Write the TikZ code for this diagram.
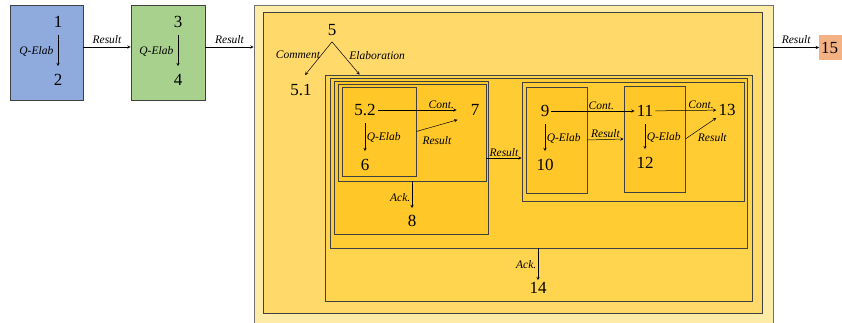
\documentclass[tikz,border=0pt]{standalone}
\usepackage{fontspec}
\setmainfont{Liberation Serif}
\definecolor{cblue}{HTML}{8FAADC}
\definecolor{cgreen}{HTML}{A9D18E}
\definecolor{csalmon}{HTML}{F4B183}
\definecolor{yA}{HTML}{FFEBA8}
\definecolor{yB}{HTML}{FFDA6A}
\definecolor{yC}{HTML}{FFD54F}
\definecolor{yD}{HTML}{FFCD33}
\definecolor{yE}{HTML}{FFC828}

\begin{document}
\begin{tikzpicture}[x=1pt,y=-1pt,
    box/.style={draw=black!75, line width=0.7pt, inner sep=0pt},
    num/.style={font=\fontsize{17}{17}\selectfont, inner sep=2pt},
    lab/.style={font=\itshape\fontsize{11.5}{12}\selectfont, inner sep=1.5pt},
    arr/.style={-stealth, line width=0.5pt},
    qarr/.style={arr, shorten <=5pt, shorten >=6pt}]
    \clip (0,0) rectangle (842,322);
    % 箱
    \node[box, fill=cblue, minimum width=73, minimum height=95] (b1) at (46.5,52.5) {};
    \node[box, fill=cgreen, minimum width=74, minimum height=95] (b2) at (168,52.5) {};
    \node[box, draw=black!55, fill=yA, minimum width=519, minimum height=335] (bout) at (513.5,172.5) {};
    \node[box, fill=yB, minimum width=499, minimum height=301] (bin) at (512.5,162.5) {};
    \node[box, fill=yC, minimum width=427, minimum height=226] (b14) at (538.5,188) {};
    \node[box, fill=yD, minimum width=417, minimum height=170] (bgrp) at (538.5,163) {};
    \node[box, fill=yE, minimum width=154, minimum height=153] (b8) at (411,157.5) {};
    \node[box, fill=yE, minimum width=148, minimum height=97] (b7) at (412,132.5) {};
    \node[box, fill=yE, minimum width=74, minimum height=89] (b6) at (379,131.5) {};
    \node[box, fill=yD, minimum width=222, minimum height=119] (bR) at (633,141.5) {};
    \node[box, fill=yE, minimum width=61, minimum height=106] (b10) at (556.5,140) {};
    \node[box, fill=yE, minimum width=61, minimum height=106] (b12) at (654.5,139) {};
    \node[fill=csalmon, anchor=west, minimum height=25, inner sep=2pt, text width=36pt,
        font=\fontsize{17}{17}\selectfont] (b15) at (819,47.5) {15};

    % 番号
    \node[num] (n1) at (58,22) {1};
    \node[num] (n2) at (58,80) {2};
    \node[num] (n3) at (178,22) {3};
    \node[num] (n4) at (178,80) {4};
    \node[num] (n5) at (332,30) {5};
    \node[num] (n51) at (301,90) {5.1};
    \node[num] (n52) at (365,110) {5.2};
    \node[num] (n7) at (475,110) {7};
    \node[num] (n6) at (365,165) {6};
    \node[num] (n8) at (412,221) {8};
    \node[num] (n9) at (545,111) {9};
    \node[num] (n10) at (545,165) {10};
    \node[num] (n11) at (645,111) {11};
    \node[num] (n12) at (645,163) {12};
    \node[num] (n13) at (727,110) {13};
    \node[num] (n14) at (538,288) {14};

    % 矢印
    \draw[qarr] (n1) -- node[lab,left=3pt] {Q-Elab} (n2);
    \draw[qarr] (n3) -- node[lab,left=3pt] {Q-Elab} (n4);
    \coordinate (r1) at ([yshift=5.5pt]b1.east);
    \coordinate (r2) at ([yshift=5.5pt]b2.east);
    \draw[arr] (r1) -- node[lab,above=2pt] {Result} (r1 -| b2.west);
    \draw[arr] (r2) -- node[lab,above=2pt] {Result} (r2 -| bout.west);
    \draw[arr] (b15.west -| bout.east) -- node[lab,above=2pt] {Result} (b15.west);

    \coordinate (ap) at ([yshift=-4pt]n5.south);
    \draw[arr] (ap) -- node[lab,left,pos=0.38] {Comment} ([xshift=4pt,yshift=7pt]n51.north);
    \draw[arr] (ap) -- node[lab,right=4pt,pos=0.42] {Elaboration} ([xshift=35pt]b14.north west);

    \draw[arr, shorten >=12pt] (n52) -- node[lab,above,pos=0.7] {Cont.} (n7);
    \draw[arr] (b6.east) -- node[lab,below=9pt] {Result} ([xshift=-11pt,yshift=-2pt]n7.south west);
    \draw[qarr] (n52) -- node[lab,right] {Q-Elab} (n6);
    \draw[arr, shorten >=5pt] (b7.south) -- node[lab,left] {Ack.} (n8);
    \coordinate (r7) at ([yshift=-25.5pt]b7.east);
    \draw[arr] (r7) -- node[lab,above] {Result} (r7 -| bR.west);

    \draw[arr] (n9) -- node[lab,above,pos=0.6] {Cont.} (n11);
    \draw[arr] (b10.east) -- node[lab,above] {Result} (b12.west);
    \draw[qarr] (n9) -- node[lab,right] {Q-Elab} (n10);
    \draw[qarr] (n11) -- node[lab,right] {Q-Elab} (n12);
    \draw[arr] (n11) -- node[lab,above,pos=0.75] {Cont.} (n13);
    \draw[arr] (b12.east) -- node[lab,below right,pos=0.35] {Result} (n13.south west);
    \draw[arr] (bgrp.south -| n14) -- node[lab,left] {Ack.} (n14);
\end{tikzpicture}
\end{document}
